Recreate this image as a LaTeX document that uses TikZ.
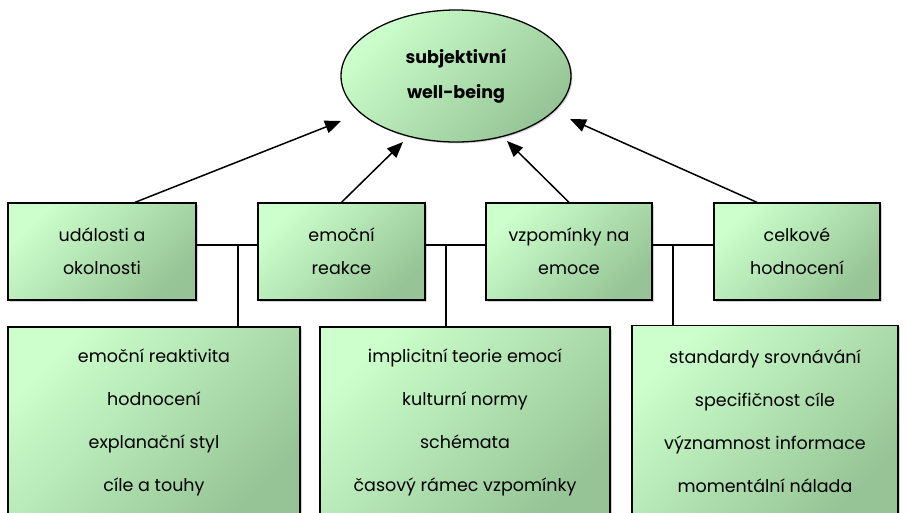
\documentclass[tikz,border=0pt]{standalone}
\usepackage{fontspec}
\setmainfont{Poppins}
\usetikzlibrary{shapes.geometric,shadows,arrows.meta}

\definecolor{lightgreen}{RGB}{204,255,204}
\definecolor{darkgreen}{RGB}{150,196,150}

\tikzset{
    greenfill/.style={draw=black, line width=1.3pt, top color=lightgreen, bottom color=darkgreen, shading angle=45,
        drop shadow={shadow xshift=1.5pt, shadow yshift=-1.5pt, opacity=0.35}},
    topbox/.style={greenfill, rectangle, minimum height=97pt, align=center, font=\fontsize{17.5}{33}\selectfont},
    lowbox/.style={greenfill, rectangle, minimum height=191pt, align=center, font=\fontsize{17.5}{43}\selectfont},
    link/.style={line width=1.3pt},
    pointer/.style={line width=1.5pt, -{Triangle[length=16pt,width=13pt]}}
}

\begin{document}
\begin{tikzpicture}[x=1pt,y=-1pt]

    \useasboundingbox (0,0) rectangle (908,512);
    \clip (0,0) rectangle (908,512);

    % goal
    \node[greenfill, ellipse, minimum width=230pt, minimum height=132pt, align=center,
        font=\bfseries\fontsize{17.5}{35}\selectfont] (wb) at (456,76) {subjektivní\\well-being};

    % top row
    \node[topbox, minimum width=188pt] (events) at (102,251.5) {události a\\okolnosti};
    \node[topbox, minimum width=167pt] (react)  at (341.5,251.5) {emoční\\reakce};
    \node[topbox, minimum width=166pt] (memory) at (569,251.5) {vzpomínky na\\emoce};
    \node[topbox, minimum width=166pt] (judge)  at (797,251.5) {celkové\\hodnocení};

    % bottom row
    \node[lowbox, minimum width=292pt] (fact1) at (154,422.5)
        {emoční reaktivita\\hodnocení\\explanační styl\\cíle a touhy};
    \node[lowbox, minimum width=290pt] (fact2) at (465,422.5)
        {implicitní teorie emocí\\kulturní normy\\schémata\\časový rámec vzpomínky};
    \node[lowbox, minimum width=266pt] (fact3) at (765,421)
        {standardy srovnávání\\specifičnost cíle\\významnost informace\\momentální nálada};

    % joints
    \coordinate (row) at (0,245);
    \coordinate (j1) at (238,245);
    \coordinate (j2) at (446,245);
    \coordinate (j3) at (673,245);

    \draw[link] (events.east |- row) -- (react.west |- row);
    \draw[link] (react.east |- row) -- (memory.west |- row);
    \draw[link] (memory.east |- row) -- (judge.west |- row);
    \draw[link] (j1) -- (j1 |- fact1.north);
    \draw[link] (j2) -- (j2 |- fact2.north);
    \draw[link] (j3) -- (j3 |- fact3.north);

    % arrows to the goal
    \coordinate (t1) at (341,121);
    \coordinate (t2) at (403,142);
    \coordinate (t3) at (507,141);
    \coordinate (t4) at (570,119);

    \draw[pointer] ([xshift=33pt]events.north) -- (t1);
    \draw[pointer] (react.north) -- (t2);
    \draw[pointer] (memory.north) -- (t3);
    \draw[pointer] ([xshift=-40pt]judge.north) -- (t4);

\end{tikzpicture}
\end{document}
